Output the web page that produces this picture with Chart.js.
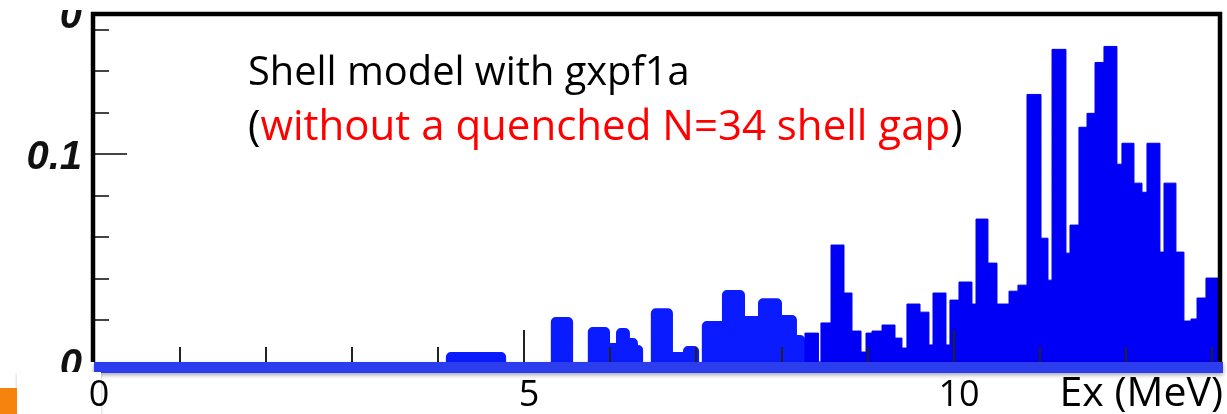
<!DOCTYPE html>
<html lang="en">
<head>
    <meta charset="UTF-8">
    <title>Shell model with gxpf1a - Ex distribution</title>
    <script src="https://cdn.jsdelivr.net/npm/chart.js"></script>
    <style>
        body {
            margin: 0;
            background: #ffffff;
        }
        #chartBox {
            width: 1227px;
            height: 414px;
        }
    </style>
</head>
<body>
<div id="chartBox">
    <canvas id="exChart" width="1227" height="414"></canvas>
</div>

<script>
    // tick labels
    const xTickValues = [0, 5, 10];
    const xTickLabels = ['0', '5', '10'];
    const yTickValues = [0, 0.1, 0.168];
    const yTickLabels = ['0', '0.1', '0'];
    const xTitle = 'Ex (MeV)';

    // hand-marked low-energy part (4 - 8.2 MeV), null separates the blobs,
    // the last edge of every blob closes it with 0
    const blobEdges = [4.15, 4.734, null,
        5.37, 5.513, null,
        5.80, 5.942, 6.128, 6.174, 6.267, 6.327, null,
        6.533, 6.674, 6.907, 6.978, null,
        7.126, 7.36, 7.512, 7.779, 7.942, 8.116, 8.211];
    const blobValues = [0.0024, 0, null,
        0.0192, 0, null,
        0.0144, 0.0067, 0.0139, 0.0091, 0.0058, 0, null,
        0.0235, 0.0024, 0.0053, 0, null,
        0.0173, 0.0322, 0.0197, 0.0283, 0.0202, 0.0106, 0];

    // histogram above 8.2 MeV: left bin edges (MeV) and bin contents
    const binEdges = [8.267, 8.424, 8.453, 8.570, 8.721, 8.814, 8.919, 8.977, 9.047, 9.163,
        9.314, 9.395, 9.453, 9.605, 9.709, 9.756, 9.907, 9.953, 10.058, 10.209,
        10.256, 10.395, 10.500, 10.640, 10.744, 10.849, 11.012, 11.093, 11.140, 11.302,
        11.349, 11.453, 11.547, 11.640, 11.744, 11.895, 11.953, 12.093, 12.186, 12.244,
        12.395, 12.442, 12.581, 12.674, 12.756, 12.826, 12.930, 13.07];
    const binValues = [0.0139, 0, 0.0188, 0.0563, 0.0332, 0.0149, 0.0048, 0.0139, 0.0149, 0.0178,
        0.0115, 0.0067, 0.0279, 0.0240, 0.0082, 0.0332, 0.0082, 0.0298, 0.0385, 0.0279,
        0.0688, 0.0476, 0.0279, 0.0341, 0.0370, 0.1288, 0.0596, 0.0394, 0.1505, 0.0524,
        0.0659, 0.1130, 0.1197, 0.1442, 0.1519, 0.0952, 0.1053, 0.0861, 0.0817, 0.1053,
        0.0529, 0.0861, 0.0529, 0.0197, 0.0207, 0.0308, 0.0404, 0];

    function blobPoints() {
        const pts = [];
        let start = true;
        for (let i = 0; i < blobEdges.length; i++) {
            if (blobEdges[i] === null) {
                pts.push({x: blobEdges[i - 1], y: null});
                start = true;
                continue;
            }
            if (start) {
                pts.push({x: blobEdges[i], y: 0});
                start = false;
            }
            pts.push({x: blobEdges[i], y: blobValues[i]});
        }
        return pts;
    }

    function histPoints() {
        const pts = [{x: binEdges[0], y: 0}];
        for (let i = 0; i < binEdges.length; i++) {
            pts.push({x: binEdges[i], y: binValues[i]});
        }
        return pts;
    }

    function line(ctx, x1, y1, x2, y2) {
        ctx.beginPath();
        ctx.moveTo(x1, y1);
        ctx.lineTo(x2, y2);
        ctx.stroke();
    }

    // frame, inward ticks, blue base band and all the texts
    const framePlugin = {
        id: 'frame',
        afterDatasetsDraw(chart) {
            const ctx = chart.ctx;
            const xs = chart.scales.x;
            const ys = chart.scales.y;
            const area = chart.chartArea;
            const x0 = xs.getPixelForValue(0);
            const yb = ys.getPixelForValue(0);

            ctx.save();
            // y ticks
            ctx.strokeStyle = '#444';
            ctx.lineWidth = 2;
            for (let k = 1; k * 0.02 < ys.max; k++) {
                const y = Math.round(ys.getPixelForValue(k * 0.02));
                line(ctx, x0, y, x0 + (k === 5 ? 33 : 15), y);
            }
            // x ticks
            ctx.strokeStyle = '#222';
            for (let v = 1; v <= 13; v++) {
                const x = Math.round(xs.getPixelForValue(v));
                line(ctx, x, yb, x, yb - (v % 5 === 0 ? 32 : 15));
            }
            // frame
            ctx.strokeStyle = '#000';
            ctx.lineWidth = 4.5;
            line(ctx, x0 - 1, yb, x0 - 1, area.top - 1);
            line(ctx, x0 - 3, area.top + 1, area.right + 4, area.top + 1);
            line(ctx, area.right + 2, area.top - 1, area.right + 2, yb);

            // blue band along the axis
            ctx.shadowColor = 'rgba(0,0,0,0.35)';
            ctx.shadowBlur = 4;
            ctx.shadowOffsetY = 2;
            ctx.fillStyle = '#2b3ded';
            ctx.fillRect(x0, yb, area.right + 5 - x0, 11);
            ctx.shadowColor = 'transparent';

            // y labels
            ctx.fillStyle = '#111';
            ctx.font = 'italic bold 40px "Liberation Sans", Arial, sans-serif';
            ctx.textAlign = 'right';
            ctx.textBaseline = 'middle';
            yTickValues.forEach((v, i) => {
                ctx.fillText(yTickLabels[i], x0 - 12, ys.getPixelForValue(v) + 4);
            });

            // slide overlays
            ctx.fillStyle = '#ffffff';
            ctx.fillRect(0, 0, chart.width, 10);
            ctx.shadowColor = 'rgba(0,0,0,0.25)';
            ctx.shadowBlur = 3;
            ctx.fillRect(17, 372, x0 - 10, 60);
            ctx.shadowColor = 'transparent';
            ctx.fillStyle = '#f7830f';
            ctx.fillRect(0, 388, 17, 30);

            // x labels
            ctx.fillStyle = '#000';
            ctx.font = '36px "Open Sans", sans-serif';
            ctx.textAlign = 'center';
            ctx.textBaseline = 'alphabetic';
            xTickValues.forEach((v, i) => {
                ctx.fillText(xTickLabels[i], xs.getPixelForValue(v) + 5, 406);
            });
            ctx.font = '41px "Open Sans", sans-serif';
            ctx.textAlign = 'right';
            ctx.fillText(xTitle, 1223, 406);

            // annotation
            ctx.textAlign = 'left';
            let size = 38;
            ctx.font = size + 'px "Open Sans", sans-serif';
            const t1 = 'Shell model with gxpf1a';
            size = size * 442 / ctx.measureText(t1).width;
            ctx.font = size.toFixed(1) + 'px "Open Sans", sans-serif';
            ctx.fillText(t1, 248, 85);

            const parts = [['(', '#000'], ['without a quenched N=34 shell gap', '#ff0000'], [')', '#000']];
            ctx.font = '38px "Open Sans", sans-serif';
            const w2 = parts.reduce((s, p) => s + ctx.measureText(p[0]).width, 0);
            const size2 = 38 * 714 / w2;
            ctx.font = size2.toFixed(1) + 'px "Open Sans", sans-serif';
            let x = 248;
            parts.forEach(p => {
                ctx.fillStyle = p[1];
                ctx.fillText(p[0], x, 140);
                x += ctx.measureText(p[0]).width;
            });
            ctx.restore();
        }
    };

    new Chart(document.getElementById('exChart').getContext('2d'), {
        type: 'line',
        data: {
            datasets: [{
                data: histPoints(),
                stepped: 'before',
                fill: 'origin',
                backgroundColor: '#0000f6',
                borderColor: '#0000f6',
                borderWidth: 1,
                pointRadius: 0
            }, {
                data: blobPoints(),
                stepped: 'before',
                fill: 'origin',
                spanGaps: false,
                backgroundColor: '#0a1cff',
                borderColor: '#0a1cff',
                borderWidth: 10,
                borderJoinStyle: 'round',
                borderCapStyle: 'round',
                pointRadius: 0
            }]
        },
        options: {
            responsive: false,
            animation: false,
            events: [],
            layout: {
                padding: {left: 94, right: 9, top: 13, bottom: 52}
            },
            plugins: {
                legend: {display: false},
                tooltip: {enabled: false}
            },
            scales: {
                x: {type: 'linear', min: 0, max: 13.07, display: false},
                y: {min: 0, max: 0.168, display: false}
            }
        },
        plugins: [framePlugin]
    });
</script>
</body>
</html>
